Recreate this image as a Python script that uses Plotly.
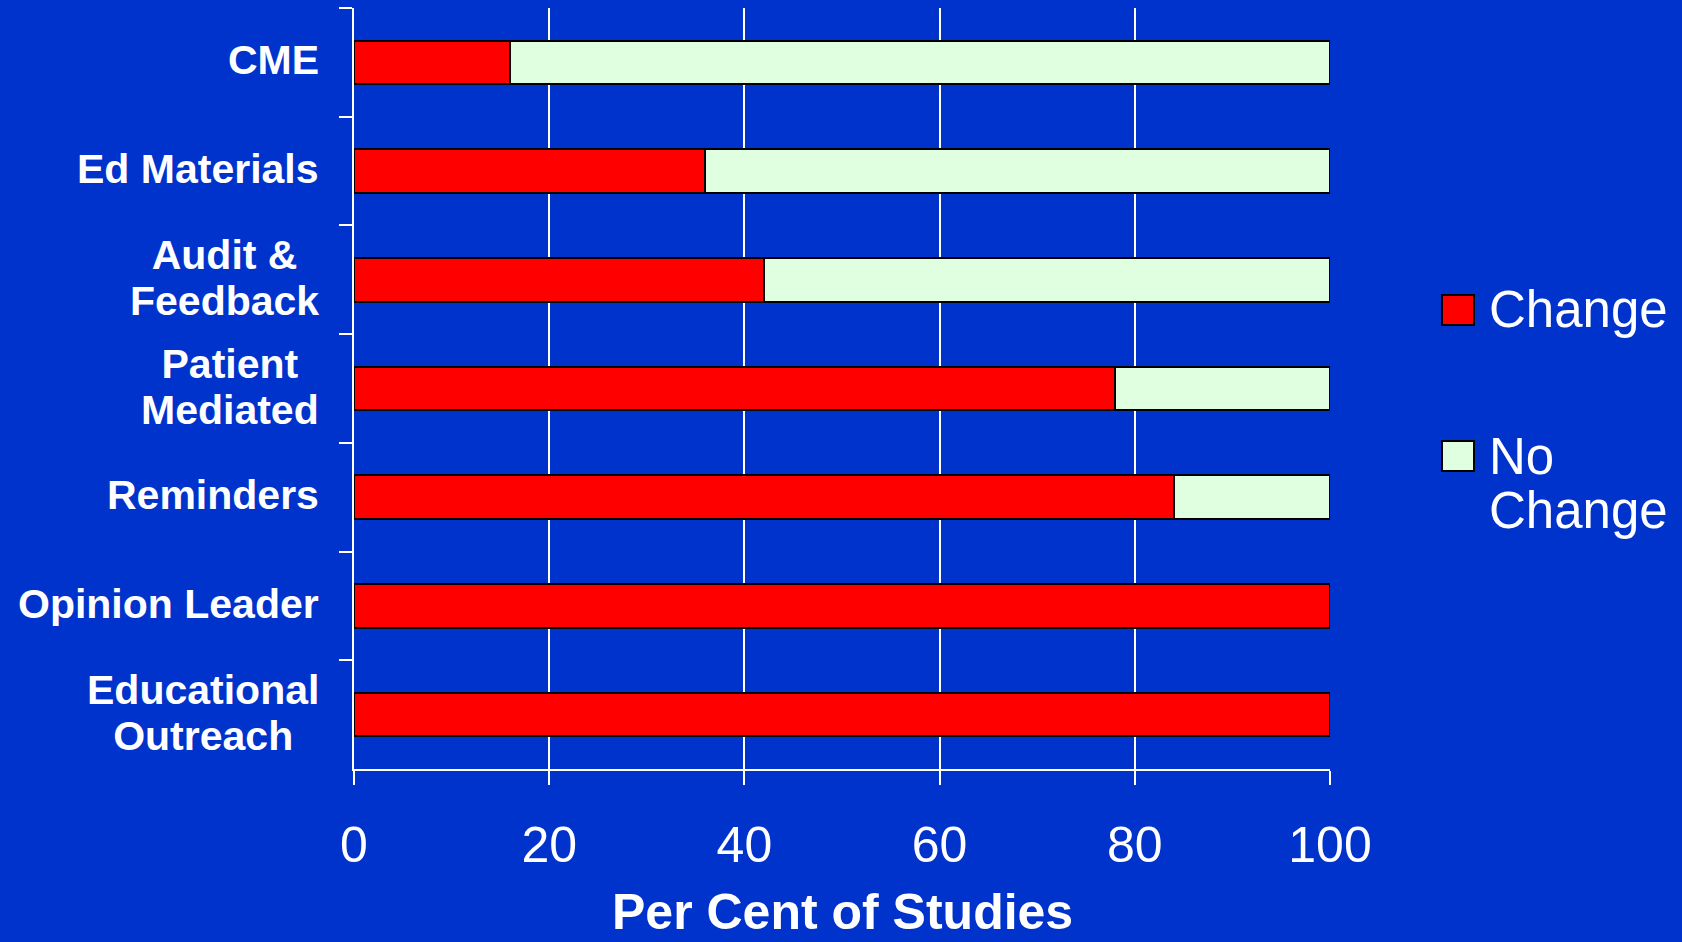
import plotly.graph_objects as go

categories = ["CME", "Ed Materials", "Audit & Feedback", "Patient Mediated",
              "Reminders", "Opinion Leader", "Educational Outreach"]
category_labels = ["CME", "Ed Materials", "Audit &<br>Feedback", "Patient<br>Mediated",
                   "Reminders", "Opinion Leader", "Educational<br>Outreach"]
change = [16, 36, 42, 78, 84, 100, 100]
no_change = [84, 64, 58, 22, 16, 0, 0]
x_ticks = [0, 20, 40, 60, 80, 100]
series_names = ["Change", "No<br>Change"]
x_title = "Per Cent of Studies"

BG = "#0033CC"
RED = "#FF0000"
GREEN = "#E0FFE0"
FONT = "Liberation Sans, Arial, sans-serif"

W, H = 1682, 942
L, R, T, B = 354, 352, 8, 173
pw, ph = W - L - R, H - T - B

def px_x(p):
    return (p - L) / pw

def px_y(p):
    return (H - B - p) / ph

fig = go.Figure()
fig.add_trace(go.Bar(y=categories, x=change, orientation="h", name="Change",
                     marker=dict(color=RED, line=dict(color="black", width=2)),
                     showlegend=False))
fig.add_trace(go.Bar(y=categories, x=no_change, orientation="h", name="No Change",
                     marker=dict(color=GREEN, line=dict(color="black", width=2)),
                     showlegend=False))

annotations = []
CAT_SIZE = 41          # glyph size
LINE_BASE = 35.4       # base size -> line spacing 1.3 * 35.4 = 46 px
for cat, lab in zip(categories, category_labels):
    styled = "<br>".join("<span style='font-size:%dpx'>%s</span>" % (CAT_SIZE, l)
                         for l in lab.split("<br>"))
    annotations.append(dict(x=px_x(321), xref="paper", y=cat, yref="y", text=styled,
                            showarrow=False, xanchor="right", yanchor="middle",
                            align="center", yshift=2,
                            font=dict(family=FONT, size=LINE_BASE, color="white",
                                      weight="bold")))

# axis title (placed as annotation so it can sit close to the bottom edge)
annotations.append(dict(x=0.5, xref="paper", y=px_y(941), yref="paper", text=x_title,
                        showarrow=False, xanchor="center", yanchor="bottom", borderpad=0,
                        font=dict(family=FONT, size=50, color="white", weight="bold")))

# custom legend
shapes = []
legend_colors = [RED, GREEN]
legend_box_y = [310, 456]
LEG_SIZE = 51
for col, by, name in zip(legend_colors, legend_box_y, series_names):
    shapes.append(dict(type="rect", xref="paper", yref="paper",
                       x0=px_x(1442), x1=px_x(1474), y0=px_y(by - 15), y1=px_y(by + 15),
                       fillcolor=col, line=dict(color="black", width=2)))
    for i, line in enumerate(name.split("<br>")):
        annotations.append(dict(x=px_x(1487), xref="paper", y=px_y(by + i * 54), yref="paper",
                                text=line, showarrow=False, xanchor="left", yanchor="middle",
                                align="left",
                                font=dict(family=FONT, size=LEG_SIZE, color="white")))

fig.update_layout(
    width=W, height=H,
    margin=dict(l=L, r=R, t=T, b=B, pad=0, autoexpand=False),
    paper_bgcolor=BG, plot_bgcolor=BG,
    barmode="stack", bargap=0.6,
    annotations=annotations, shapes=shapes,
    showlegend=False,
    font=dict(family=FONT, color="white"),
)
fig.update_xaxes(range=[0, 100], tickvals=x_ticks, ticks="outside", ticklen=14,
                 tickwidth=2, tickcolor="white", showgrid=True, gridcolor="white",
                 gridwidth=2, showline=True, linecolor="white", linewidth=2,
                 zeroline=False, tickfont=dict(family=FONT, size=50, color="white"),
                 ticklabelstandoff=17, automargin=False)
fig.update_yaxes(type="category", categoryorder="array", categoryarray=categories,
                 autorange="reversed", tickson="boundaries", ticks="outside", ticklen=13,
                 tickwidth=2, tickcolor="white", showticklabels=False, showgrid=False,
                 showline=True, linecolor="white", linewidth=2, zeroline=False,
                 automargin=False)

fig.write_html("out.html")
